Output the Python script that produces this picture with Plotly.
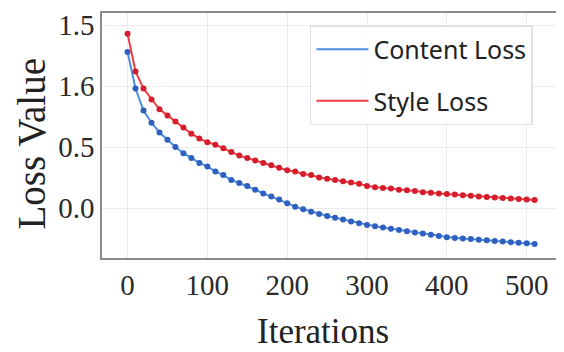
import plotly.graph_objects as go

iterations = list(range(0, 520, 10))
content_loss = [1.28, 0.98, 0.80, 0.70, 0.62, 0.56, 0.50, 0.45, 0.41, 0.37,
                0.34, 0.30, 0.27, 0.23, 0.205, 0.18, 0.15, 0.12, 0.095, 0.07,
                0.04, 0.01, -0.01, -0.03, -0.05, -0.065, -0.08, -0.095, -0.11, -0.125,
                -0.14, -0.15, -0.16, -0.17, -0.18, -0.19, -0.20, -0.21, -0.22, -0.23,
                -0.24, -0.245, -0.25, -0.255, -0.26, -0.265, -0.27, -0.275, -0.28, -0.285,
                -0.29, -0.295]
style_loss = [1.43, 1.12, 0.98, 0.89, 0.81, 0.76, 0.71, 0.66, 0.61, 0.57,
              0.54, 0.52, 0.49, 0.46, 0.43, 0.41, 0.39, 0.37, 0.35, 0.33,
              0.31, 0.30, 0.28, 0.27, 0.25, 0.24, 0.23, 0.22, 0.21, 0.20,
              0.18, 0.17, 0.165, 0.16, 0.15, 0.145, 0.14, 0.13, 0.125, 0.12,
              0.115, 0.11, 0.105, 0.10, 0.095, 0.09, 0.087, 0.083, 0.078, 0.074,
              0.07, 0.066]
y_tickvals = [1.5, 1.0, 0.5, 0.0]
y_ticktext = ["1.5", "1.6", "0.5", "0.0"]
x_tickvals = [0, 100, 200, 300, 400, 500]
x_title = "Iterations"
y_title = "Loss Value"

blue_line, blue_dot = "#4a8fe0", "#2f5fbf"
red_line, red_dot = "#f03a44", "#d41e2c"

fig = go.Figure()
for name, vals, lc, dc, grp in [("Content Loss", content_loss, blue_line, blue_dot, "a"),
                                 ("Style Loss", style_loss, red_line, red_dot, "b")]:
    fig.add_trace(go.Scatter(x=iterations, y=vals, mode="lines", name=name,
                             line=dict(color=lc, width=2), legendgroup=grp))
    fig.add_trace(go.Scatter(x=iterations, y=vals, mode="markers", showlegend=False,
                             marker=dict(color=dc, size=6), legendgroup=grp))

axis_common = dict(showline=True, linecolor="#8a8a8a", linewidth=1.5, mirror=True,
                   showgrid=True, gridcolor="#ececec", gridwidth=1, zeroline=False,
                   ticks="", automargin=False,
                   tickfont=dict(family="Liberation Serif", size=29, color="#2a2a2a"))

fig.update_layout(
    width=556, height=344,
    margin=dict(l=94, r=7, t=5, b=94),
    paper_bgcolor="white", plot_bgcolor="white",
    xaxis=dict(range=[-32, 538], tickvals=x_tickvals, **axis_common),
    yaxis=dict(range=[-0.41, 1.6], tickvals=y_tickvals, ticktext=y_ticktext, **axis_common),
    legend=dict(x=0.457, y=0.951, xanchor="left", yanchor="top",
                bgcolor="rgba(255,255,255,0.9)", bordercolor="#e2e2e2", borderwidth=1.5,
                font=dict(family="Noto Sans", size=25, color="#222"),
                tracegroupgap=16, itemwidth=52),
    showlegend=True,
)
fig.add_annotation(text=x_title, xref="paper", yref="paper", x=0.486, y=-0.302,
                   xanchor="center", yanchor="middle", showarrow=False,
                   font=dict(family="Liberation Serif", size=35, color="#222"))
fig.add_annotation(text=y_title, xref="paper", yref="paper", x=-0.155, y=0.469,
                   xanchor="center", yanchor="middle", showarrow=False, textangle=-90,
                   font=dict(family="Liberation Serif", size=39, color="#222"))

fig.write_html("out.html")
